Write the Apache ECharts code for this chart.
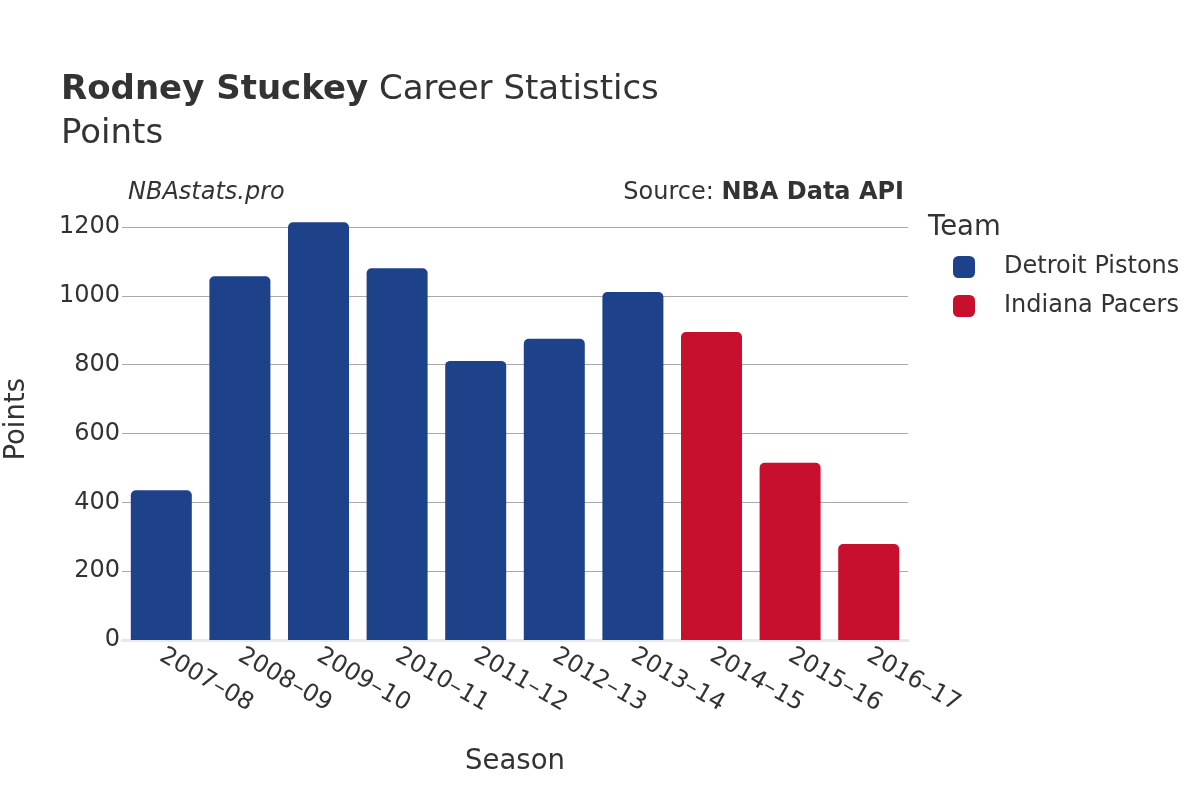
<!DOCTYPE html>
<html lang="en">
<head>
    <meta charset="UTF-8">
    <title>Rodney Stuckey Career Statistics</title>
    <script src="https://cdn.jsdelivr.net/npm/echarts@6/dist/echarts.min.js"></script>
    <style>
        html, body { margin: 0; padding: 0; background: #fff; }
        #main { width: 1200px; height: 800px; }
    </style>
</head>
<body>
<div id="main"></div>
<script>
    // seasons on the x axis
    var seasons = ['2007–08', '2008–09', '2009–10', '2010–11', '2011–12',
                   '2012–13', '2013–14', '2014–15', '2015–16', '2016–17'];
    // points per season, one array per team (null = did not play for that team)
    var pistons = [435, 1057, 1214, 1080, 811, 875, 1011, null, null, null];
    var pacers  = [null, null, null, null, null, null, null, 895, 515, 279];
    var yTicks = [0, 200, 400, 600, 800, 1000, 1200];

    var FONT = 'DejaVu Sans';
    var TXT = '#333';

    var myChart = echarts.init(document.getElementById('main'));
    var option = {
        backgroundColor: '#fff',
        textStyle: { fontFamily: FONT, color: TXT },
        title: [
            {
                text: '{b|Rodney Stuckey} Career Statistics\nPoints',
                left: 56, top: 63,
                textStyle: {
                    fontFamily: FONT, fontSize: 34, fontWeight: 'normal', color: TXT, lineHeight: 44,
                    rich: { b: { fontFamily: FONT, fontSize: 34, fontWeight: 'bold', color: TXT, lineHeight: 44 } }
                }
            },
            {
                text: 'NBAstats.pro',
                left: 123, top: 176,
                textStyle: { fontFamily: FONT, fontSize: 24, fontStyle: 'italic', fontWeight: 'normal', color: TXT }
            },
            {
                text: 'Source: {b|NBA Data API}',
                right: 291, top: 176,
                textStyle: {
                    fontFamily: FONT, fontSize: 24, fontWeight: 'normal', color: TXT,
                    rich: { b: { fontFamily: FONT, fontSize: 24, fontWeight: 'bold', color: TXT } }
                }
            },
            {
                text: 'Team',
                left: 923, top: 209,
                textStyle: { fontFamily: FONT, fontSize: 27.5, fontWeight: 'normal', color: TXT }
            }
        ],
        legend: {
            orient: 'vertical',
            left: 948, top: 250,
            icon: 'roundRect',
            itemWidth: 22, itemHeight: 22,
            itemGap: 15,
            textStyle: { fontFamily: FONT, fontSize: 24, color: TXT, padding: [0, 0, 0, 24] },
            data: ['Detroit Pistons', 'Indiana Pacers']
        },
        graphic: [
            {
                type: 'text',
                left: 3, top: 378,
                rotation: Math.PI / 2,
                style: { text: 'Points', font: '27.5px "DejaVu Sans"', fill: TXT }
            }
        ],
        grid: { left: 122, right: 292, top: 227, bottom: 160, containLabel: false },
        xAxis: {
            type: 'category',
            data: seasons,
            name: 'Season',
            nameLocation: 'middle',
            nameGap: 108,
            nameTextStyle: { fontFamily: FONT, fontSize: 27.5, color: TXT },
            axisLine: { show: true, lineStyle: { color: '#e8e8e8', width: 3 } },
            axisTick: { show: false },
            axisLabel: {
                rotate: -30, margin: 14,
                fontFamily: FONT, fontSize: 24, color: TXT
            }
        },
        yAxis: {
            type: 'value',
            min: yTicks[0], max: yTicks[yTicks.length - 1], interval: 200,
            axisLine: { show: false },
            axisTick: { show: false },
            axisLabel: {
                margin: 2, fontFamily: FONT, fontSize: 24, color: TXT,
                formatter: function (v) { return String(v); }
            },
            splitLine: { lineStyle: { color: '#aaa', width: 1 } }
        },
        series: [
            {
                name: 'Detroit Pistons',
                type: 'bar',
                stack: 'team',
                data: pistons,
                barWidth: 61,
                clip: false,
                itemStyle: { color: '#1d428a', borderRadius: [5, 5, 0, 0] }
            },
            {
                name: 'Indiana Pacers',
                type: 'bar',
                stack: 'team',
                data: pacers,
                barWidth: 61,
                clip: false,
                itemStyle: { color: '#c8102e', borderRadius: [5, 5, 0, 0] }
            }
        ]
    };
    myChart.setOption(option);
</script>
</body>
</html>
